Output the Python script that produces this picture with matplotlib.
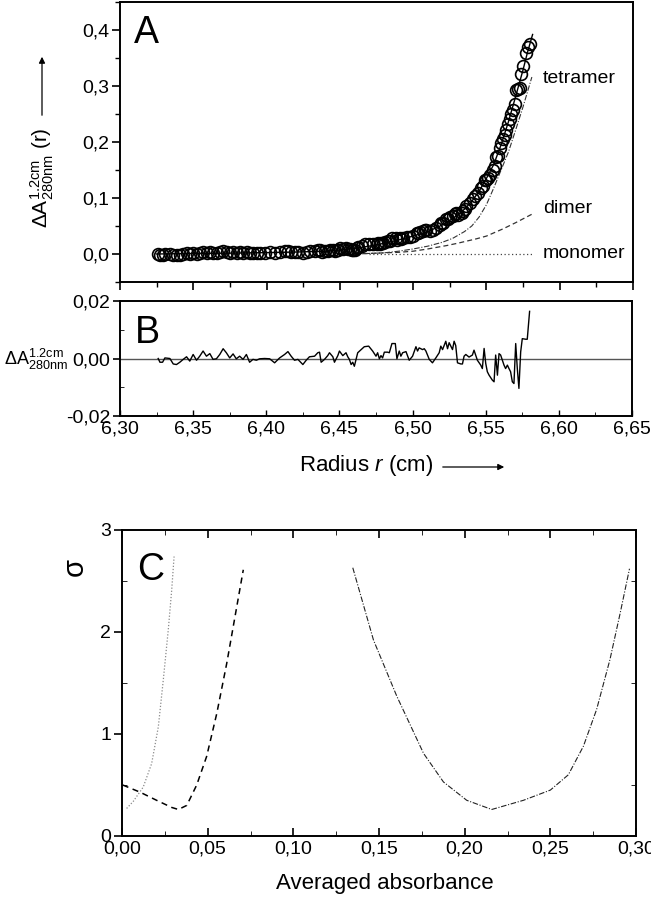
import numpy as np
import matplotlib
matplotlib.use("Agg")
import matplotlib.pyplot as plt
from matplotlib.ticker import MultipleLocator, FuncFormatter

plt.rcParams['font.family'] = ['Liberation Sans', 'DejaVu Sans']
plt.rcParams['mathtext.fontset'] = 'custom'
plt.rcParams['mathtext.rm'] = 'Liberation Sans'
plt.rcParams['mathtext.it'] = 'Liberation Sans:italic'
plt.rcParams['mathtext.bf'] = 'Liberation Sans:bold'

# ---------------- Panel B data (residuals) / radii of the scan ----------------
resid_r = [6.3261, 6.3273, 6.3291, 6.3307, 6.3341, 6.3364, 6.3386, 6.3409, 6.3432, 6.3455,
           6.3477, 6.3500, 6.3523, 6.3545, 6.3568, 6.3591, 6.3614, 6.3636, 6.3659, 6.3682,
           6.3705, 6.3727, 6.3750, 6.3773, 6.3795, 6.3818, 6.3841, 6.3864, 6.3886, 6.3909,
           6.3932, 6.3955, 6.3989, 6.4023, 6.4057, 6.4091, 6.4125, 6.4148, 6.4170, 6.4193,
           6.4216, 6.4250, 6.4273, 6.4295, 6.4330, 6.4352,
           6.4364, 6.4375, 6.4398, 6.4420, 6.4432, 6.4455, 6.4466, 6.4489, 6.4500, 6.4523,
           6.4545, 6.4557, 6.4568, 6.4580, 6.4591, 6.4602, 6.4614, 6.4625, 6.4648, 6.4670,
           6.4700, 6.4727, 6.4750, 6.4761, 6.4773, 6.4784, 6.4795, 6.4807, 6.4830, 6.4841,
           6.4859, 6.4882, 6.4893, 6.4909, 6.4920, 6.4932, 6.4955, 6.4977, 6.5000, 6.5023,
           6.5034, 6.5045, 6.5068, 6.5080, 6.5091, 6.5114, 6.5136, 6.5159, 6.5182, 6.5193,
           6.5205, 6.5227, 6.5239, 6.5250, 6.5273, 6.5284, 6.5295, 6.5307, 6.5330, 6.5341,
           6.5352, 6.5364, 6.5386,
           6.5409, 6.5420, 6.5443, 6.5466, 6.5477, 6.5489, 6.5500, 6.5511, 6.5523, 6.5545,
           6.5557, 6.5568, 6.5580, 6.5591, 6.5602, 6.5614, 6.5625, 6.5636, 6.5648, 6.5659,
           6.5670, 6.5682, 6.5693, 6.5705, 6.5716, 6.5727, 6.5739, 6.5750, 6.5773, 6.5784,
           6.5800]
resid_a = [0.0, -0.0013, -0.0013, 0.0002, 0.0, -0.0019, -0.0021, -0.0013, -0.0003, 0.0006,
           -0.0009, 0.0014, -0.0006, 0.0008, 0.0026, 0.0008, 0.0017, -0.0003, -0.0001, 0.0014,
           0.0034, 0.0020, 0.0002, 0.0016, -0.0001, 0.0008, -0.0003, 0.0014, -0.0013, -0.0003,
           -0.0006, -0.0001, 0.0, -0.0001, -0.0015, 0.0002, 0.0014, 0.0024, 0.0008, -0.0006,
           -0.0003, -0.0021, -0.0006, 0.0006, 0.0008, 0.0020,
           0.0022, -0.0013, -0.0003, 0.0010, 0.0020, 0.0006, -0.0013, 0.0010, 0.0026, 0.0010,
           0.0020, 0.0006, -0.0003, -0.0021, -0.0013, -0.0027, -0.0003, 0.0020, 0.0031, 0.0041,
           0.0043, 0.0026, 0.0008, 0.0020, -0.0001, 0.0010, 0.0002, 0.0022, 0.0022, 0.0020,
           0.0052, 0.0052, -0.0001, 0.0026, 0.0008, 0.0020, 0.0024, -0.0006, 0.0008, 0.0041,
           0.0026, 0.0037, 0.0031, 0.0034, 0.0026, -0.0003, -0.0015, 0.0002, 0.0020, 0.0043,
           0.0031, 0.0060, 0.0034, 0.0055, 0.0031, 0.0060, 0.0045, -0.0015, -0.0019, -0.0019,
           0.0008, 0.0014, 0.0005,
           0.0012, 0.0029, -0.0006, -0.0023, -0.0035, 0.0035, -0.0017, -0.0046, -0.0058, -0.0075,
           -0.0081, 0.0012, -0.0058, 0.0017, 0.0012, -0.0006, -0.0023, -0.0035, -0.0023, -0.0035,
           -0.0046, -0.0081, -0.0087, 0.0052, -0.0035, -0.0104, 0.0023, 0.0069, 0.0067, 0.0067,
           0.0164]

# ---------------- Panel A data ----------------
circle_a = [0.000, -0.001, -0.001, 0.000, 0.000, -0.001, -0.002, -0.001, 0.000, 0.001,
            0.000, 0.002, 0.000, 0.002, 0.004, 0.002, 0.003, 0.001, 0.001, 0.003,
            0.005, 0.003, 0.002, 0.003, 0.002, 0.003, 0.002, 0.003, 0.001, 0.002,
            0.002, 0.002, 0.002, 0.003, 0.001, 0.003, 0.005, 0.006, 0.004, 0.003,
            0.003, 0.002, 0.003, 0.005, 0.005, 0.007,
            0.007, 0.003, 0.005, 0.006, 0.008, 0.007, 0.005, 0.008, 0.010, 0.009,
            0.010, 0.009, 0.009, 0.007, 0.008, 0.007, 0.010, 0.013, 0.015, 0.017,
            0.018, 0.018, 0.017, 0.019, 0.018, 0.019, 0.019, 0.022, 0.023, 0.023,
            0.028, 0.029, 0.025, 0.028, 0.027, 0.029, 0.031, 0.030, 0.033, 0.038,
            0.037, 0.039, 0.041, 0.042, 0.042, 0.041, 0.043, 0.047, 0.052, 0.055,
            0.056, 0.062, 0.062, 0.066, 0.067, 0.072, 0.073, 0.069, 0.074, 0.076,
            0.081, 0.085, 0.091,
            0.098, 0.104, 0.109, 0.117, 0.121, 0.133, 0.133, 0.136, 0.141, 0.150,
            0.157, 0.174, 0.175, 0.190, 0.198, 0.206, 0.213, 0.221, 0.232, 0.241,
            0.250, 0.257, 0.267, 0.292, 0.294, 0.297, 0.321, 0.336, 0.359, 0.370,
            0.375]

fit_r = [6.325, 6.35, 6.375, 6.40, 6.42, 6.44, 6.45, 6.46, 6.47, 6.48, 6.49, 6.50,
         6.505, 6.51, 6.515, 6.52, 6.525, 6.53, 6.535, 6.54, 6.545, 6.55, 6.555,
         6.56, 6.565, 6.57, 6.575, 6.578, 6.5815]
fit_a = [0.000, 0.001, 0.0015, 0.0025, 0.0035, 0.005, 0.007, 0.010, 0.014, 0.019,
         0.025, 0.032, 0.036, 0.040, 0.046, 0.052, 0.060, 0.069, 0.080, 0.094,
         0.112, 0.135, 0.160, 0.195, 0.236, 0.282, 0.329, 0.360, 0.392]

tetramer_r = [6.46, 6.47, 6.48, 6.49, 6.50, 6.51, 6.52, 6.527, 6.535, 6.54, 6.545,
              6.55, 6.555, 6.56, 6.565, 6.57, 6.575, 6.581]
tetramer_a = [0.000, 0.001, 0.002, 0.005, 0.009, 0.014, 0.021, 0.028, 0.040, 0.050,
              0.066, 0.088, 0.118, 0.150, 0.182, 0.222, 0.263, 0.316]

dimer_r = [6.46, 6.47, 6.48, 6.49, 6.50, 6.51, 6.5227, 6.53, 6.543, 6.55, 6.5614, 6.57, 6.581]
dimer_a = [0.000, 0.001, 0.002, 0.003, 0.005, 0.009, 0.015, 0.019, 0.027, 0.032,
           0.045, 0.056, 0.071]

monomer_r = [6.47, 6.581]
monomer_a = [0.0, 0.0]

# ---------------- Panel C data ----------------
sig_mono_x = [0.0027, 0.0066, 0.0124, 0.0173, 0.0212, 0.0241, 0.0270, 0.0290, 0.0304]
sig_mono_y = [0.27, 0.34, 0.48, 0.71, 1.07, 1.53, 2.02, 2.41, 2.74]
sig_dimer_x = [0.0004, 0.0105, 0.0202, 0.0290, 0.0329, 0.0378, 0.0436, 0.0494, 0.0553,
               0.0611, 0.0670, 0.0708]
sig_dimer_y = [0.50, 0.43, 0.35, 0.28, 0.26, 0.30, 0.50, 0.78, 1.20, 1.69, 2.25, 2.61]
sig_tetra_x = [0.1347, 0.1468, 0.1604, 0.1760, 0.1876, 0.2012, 0.2158, 0.2343, 0.2500,
               0.2605, 0.2693, 0.2770, 0.2848, 0.2907, 0.2962]
sig_tetra_y = [2.63, 1.92, 1.37, 0.81, 0.53, 0.35, 0.26, 0.35, 0.45, 0.60, 0.88, 1.24,
               1.73, 2.18, 2.62]

W, H = 651, 899
fig = plt.figure(figsize=(W / 100, H / 100), dpi=100)

def box(l, t, r, b):
    return [l / W, 1 - b / H, (r - l) / W, (b - t) / H]

TICKFS = 14

def comma(fmt):
    return FuncFormatter(lambda v, p: (fmt % v).replace('.', ',').replace('\u2212', '-'))

# ---------- Panel A ----------
axA = fig.add_axes(box(120, 2, 633, 282))
axA.plot(fit_r, fit_a, color='black', lw=1.0, zorder=3)
axA.plot(tetramer_r, tetramer_a, color='#333333', lw=0.8, dashes=(5, 1.5, 1, 1.5), zorder=2)
axA.plot(dimer_r, dimer_a, color='#333333', lw=0.9, dashes=(4, 2.5), zorder=2)
axA.plot(monomer_r, monomer_a, color='#444444', lw=0.9, dashes=(1, 2), zorder=2)
axA.plot(resid_r, circle_a, 'o', ms=8.5, mfc='none', mec='black', mew=1.2, zorder=4)
axA.set_xlim(6.30, 6.65)
axA.set_ylim(-0.05, 0.45)
axA.xaxis.set_major_locator(MultipleLocator(0.05))
axA.xaxis.set_minor_locator(MultipleLocator(0.025))
axA.yaxis.set_major_locator(MultipleLocator(0.1))
axA.yaxis.set_minor_locator(MultipleLocator(0.05))
axA.yaxis.set_major_formatter(comma('%.1f'))
axA.tick_params(axis='both', which='major', direction='out', length=6, width=1.2,
                labelsize=TICKFS, pad=2, top=False, right=False, labelbottom=False)
axA.tick_params(axis='both', which='minor', direction='out', length=3.5, width=1.0,
                top=False, right=False)
axA.text(6.5886, 0.314, 'tetramer', fontsize=14, va='center', ha='left')
axA.text(6.5886, 0.081, 'dimer', fontsize=14, va='center', ha='left')
axA.text(6.5886, 0.0, 'monomer', fontsize=14, va='center', ha='left')
axA.text(0.027, 0.89, 'A', transform=axA.transAxes, fontsize=27,
         va='center', ha='left')

# ---------- Panel B ----------
axB = fig.add_axes(box(120, 301, 632, 416))
axB.axhline(0, color='#555555', lw=1.0, zorder=1)
axB.plot(resid_r, resid_a, color='black', lw=1.0, zorder=2)
axB.set_xlim(6.30, 6.65)
axB.set_ylim(-0.02, 0.02)
axB.xaxis.set_major_locator(MultipleLocator(0.05))
axB.xaxis.set_minor_locator(MultipleLocator(0.025))
axB.yaxis.set_major_locator(MultipleLocator(0.02))
axB.yaxis.set_minor_locator(MultipleLocator(0.01))
axB.yaxis.set_major_formatter(comma('%.2f'))
axB.xaxis.set_major_formatter(comma('%.2f'))
axB.tick_params(axis='y', which='major', direction='out', length=5, width=1.2,
                labelsize=TICKFS, pad=2, right=False)
axB.tick_params(axis='y', which='minor', direction='in', length=3, right=False)
axB.tick_params(axis='x', which='major', direction='in', length=4, width=1.0,
                labelsize=TICKFS, pad=3, top=False)
axB.tick_params(axis='x', which='minor', direction='in', length=3, top=False)
axB.text(0.03, 0.72, 'B', transform=axB.transAxes, fontsize=27,
         va='center', ha='left')

# ---------- Panel C ----------
axC = fig.add_axes(box(122, 530, 636, 836))
axC.plot(sig_mono_x, sig_mono_y, color='#8a8a8a', lw=0.9, dashes=(1, 1.5))
axC.plot(sig_dimer_x, sig_dimer_y, color='black', lw=1.1, dashes=(4, 3))
axC.plot(sig_tetra_x, sig_tetra_y, color='#222222', lw=0.8, dashes=(5, 1.5, 1, 1.5))
axC.set_xlim(0, 0.30)
axC.set_ylim(0, 3)
axC.xaxis.set_major_locator(MultipleLocator(0.05))
axC.xaxis.set_minor_locator(MultipleLocator(0.025))
axC.yaxis.set_major_locator(MultipleLocator(1))
axC.yaxis.set_minor_locator(MultipleLocator(0.5))
axC.xaxis.set_major_formatter(comma('%.2f'))
axC.yaxis.set_major_formatter(FuncFormatter(lambda v, p: '%d' % round(v)))
axC.tick_params(axis='x', which='major', direction='in', length=6, width=1.2,
                labelsize=TICKFS, pad=3, top=True)
axC.tick_params(axis='x', which='minor', direction='in', length=3.5, top=True)
axC.tick_params(axis='y', which='major', direction='out', length=6, width=1.2,
                labelsize=TICKFS, pad=2, right=False)
axC.tick_params(axis='y', which='minor', direction='in', length=3.5, right=True)
axC.text(0.03, 0.87, 'C', transform=axC.transAxes, fontsize=27,
         va='center', ha='left')

for ax in (axA, axB, axC):
    for s in ax.spines.values():
        s.set_linewidth(1.4)

# ---------- Labels ----------
fig.text(42 / W, 1 - 178 / H,
         r'$\Delta\mathrm{A}^{1.2\mathrm{cm}}_{280\mathrm{nm}}$ (r)',
         rotation=90, fontsize=15, ha='center', va='center')
fig.add_artist(matplotlib.patches.FancyArrowPatch(
    (42 / W, 1 - 118 / H), (42 / W, 1 - 54 / H), transform=fig.transFigure,
    arrowstyle='-|>', mutation_scale=9, color='black', lw=0.9))
fig.text(36 / W, 1 - 359 / H, r'$\Delta\mathrm{A}^{1.2\mathrm{cm}}_{280\mathrm{nm}}$',
         fontsize=13, ha='center', va='center')
fig.text(433 / W, 1 - 466 / H, r'Radius $\mathit{r}$ (cm)', fontsize=16,
         ha='right', va='center')
fig.add_artist(matplotlib.patches.FancyArrowPatch(
    (440 / W, 1 - 467 / H), (507 / W, 1 - 467 / H), transform=fig.transFigure,
    arrowstyle='-|>', mutation_scale=9, color='black', lw=0.9))
fig.text(75 / W, 1 - 567 / H, '\u03c3', fontsize=21, rotation=90,
         ha='center', va='center')
fig.text(385 / W, 1 - 884 / H, 'Averaged absorbance', fontsize=16,
         ha='center', va='center')

fig.savefig('out.png', dpi=100)
